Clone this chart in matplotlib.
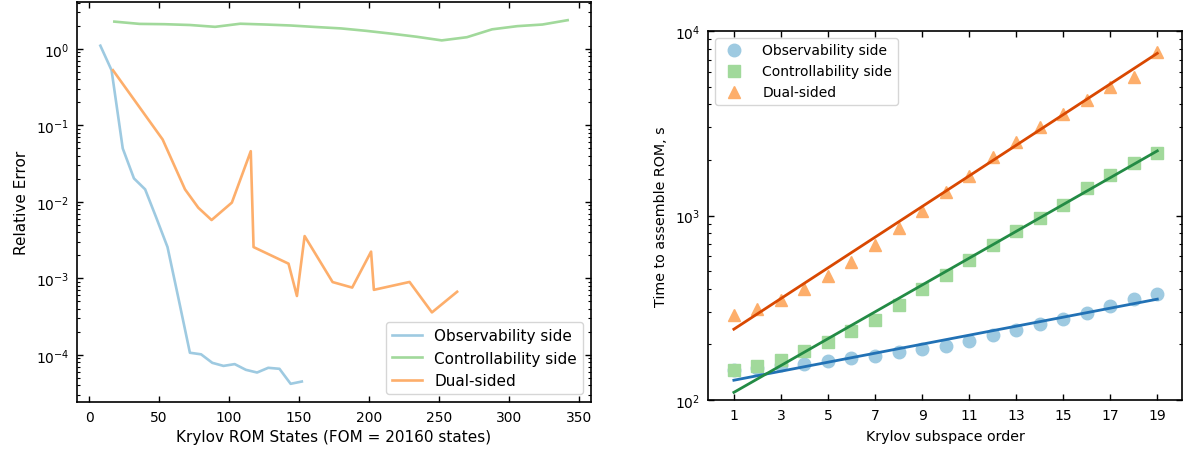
import numpy as np
import matplotlib
matplotlib.use("Agg")
import matplotlib.pyplot as plt
from matplotlib.ticker import LogLocator, NullFormatter

# ---------------- data: left panel (relative error) ----------------
obs_states = [8, 16, 24, 32, 40, 48, 56, 64, 72, 80, 88, 96, 104, 112, 120, 128, 136, 144, 152]
obs_error = [1.10, 0.526, 0.050, 0.0203, 0.0146, 0.0062, 0.00257, 5.3e-4, 1.07e-4, 1.02e-4,
             7.9e-5, 7.2e-5, 7.6e-5, 6.4e-5, 5.9e-5, 6.8e-5, 6.6e-5, 4.2e-5, 4.5e-5]

ctrl_states = [18, 36, 54, 72, 90, 108, 126, 144, 162, 180, 198, 216, 234, 252, 270, 288, 306, 324, 342]
ctrl_error = [2.27, 2.12, 2.10, 2.05, 1.94, 2.13, 2.08, 2.02, 1.93, 1.85, 1.72, 1.58, 1.44, 1.29,
              1.42, 1.80, 1.98, 2.08, 2.37]

dual_states = [17, 52.5, 68.5, 78, 87.5, 102, 115.5, 117.5, 142.5, 148.5, 154, 174, 188, 201.5,
               203.5, 229, 245, 263]
dual_error = [0.526, 0.0655, 0.0146, 0.0084, 0.0058, 0.0098, 0.046, 0.00257, 0.00156, 0.00059,
              0.00358, 0.000897, 0.00076, 0.00224, 0.00071, 0.0009, 0.00036, 0.00067]

# ---------------- data: right panel (assembly time) ----------------
order = list(range(1, 20))
obs_time = [145, 150, 155, 157, 162, 168, 174, 181, 189, 197, 209, 225, 239, 258, 275, 298, 322, 352, 375]
ctrl_time = [145, 153, 165, 185, 207, 237, 271, 327, 399, 475, 575, 690, 819, 968, 1142, 1412,
             1653, 1920, 2193]
dual_time = [290, 313, 349, 399, 471, 561, 690, 853, 1059, 1333, 1627, 2086, 2504, 3035, 3539,
             4231, 4996, 5664, 7700]

# exponential fit lines (values at first and last order)
fit_order = [1, 19]
obs_fit = [128, 352]
ctrl_fit = [110, 2240]
dual_fit = [242, 7570]

labels = ["Observability side", "Controllability side", "Dual-sided"]
light = ["#9ecae1", "#a1d99b", "#fdae6b"]
dark = ["#2171b5", "#238b45", "#d94801"]

plt.rcParams["font.family"] = "DejaVu Sans"
plt.rcParams["font.size"] = 10

fig = plt.figure(figsize=(11.83, 4.52), dpi=100)
ax1 = fig.add_axes([77 / 1183, 49 / 452, 514 / 1183, 400 / 452])
ax2 = fig.add_axes([708 / 1183, 51 / 452, 474 / 1183, 369 / 452])


def style(ax):
    ax.tick_params(which="both", direction="in", top=True, right=True, pad=5.5)
    ax.tick_params(which="major", length=4.5, width=1.0)
    ax.tick_params(which="minor", length=2.5, width=0.8)
    for s in ax.spines.values():
        s.set_linewidth(1.2)


# left panel
ax1.plot(obs_states, obs_error, color=light[0], lw=1.9, label=labels[0])
ax1.plot(ctrl_states, ctrl_error, color=light[1], lw=1.9, label=labels[1])
ax1.plot(dual_states, dual_error, color=light[2], lw=1.9, label=labels[2])
ax1.set_yscale("log")
ax1.set_xticks(np.arange(0, 351, 50))
ax1.yaxis.set_minor_locator(LogLocator(base=10, subs=np.arange(2, 10)))
ax1.yaxis.set_minor_formatter(NullFormatter())
ax1.set_xlabel("Krylov ROM States (FOM = 20160 states)", fontsize=11, labelpad=4)
ax1.set_ylabel("Relative Error", fontsize=11, labelpad=5)
ax1.legend(loc="lower right", fontsize=11)
style(ax1)

# right panel
ax2.plot(order, obs_time, "o", color=light[0], ms=9, label=labels[0], zorder=2)
ax2.plot(order, ctrl_time, "s", color=light[1], ms=9, label=labels[1], zorder=2)
ax2.plot(order, dual_time, "^", color=light[2], ms=9, label=labels[2], zorder=2)
ax2.plot(fit_order, obs_fit, color=dark[0], lw=2, zorder=3)
ax2.plot(fit_order, ctrl_fit, color=dark[1], lw=2, zorder=3)
ax2.plot(fit_order, dual_fit, color=dark[2], lw=2, zorder=3)
ax2.set_yscale("log")
ax2.set_ylim(100, 10000)
ax2.set_xlim(-0.1, 20.05)
ax2.set_xticks(np.arange(1, 20, 2))
ax2.yaxis.set_minor_locator(LogLocator(base=10, subs=np.arange(2, 10)))
ax2.yaxis.set_minor_formatter(NullFormatter())
ax2.set_xlabel("Krylov subspace order", fontsize=10.3, labelpad=5)
ax2.set_ylabel("Time to assemble ROM, s", fontsize=10.3, labelpad=5)
ax2.legend(loc="upper left", numpoints=1, handletextpad=1.0)
style(ax2)

fig.savefig("out.png", dpi=100)
